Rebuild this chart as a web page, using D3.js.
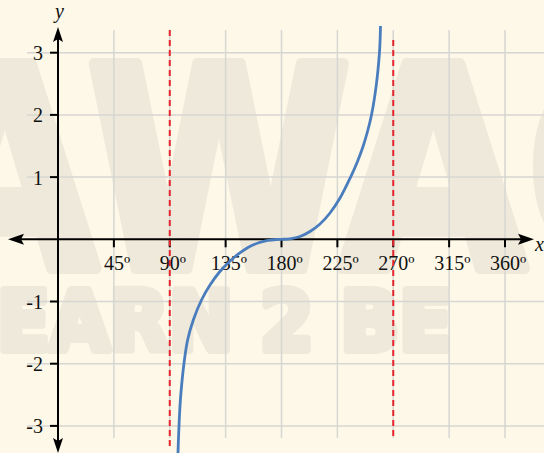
<!DOCTYPE html>
<html><head><meta charset="utf-8">
<script src="https://cdn.jsdelivr.net/npm/d3@7"></script>
<style>html,body{margin:0;padding:0;background:#fdf8e8;} svg{display:block}</style>
</head><body><svg id="c" width="544" height="453"></svg>
<script>
// ---- data ----
const xTicks = [45, 90, 135, 180, 225, 270, 315, 360];
const xTickLabels = ["45º", "90º", "135º", "180º", "225º", "270º", "315º", "360º"];
const yTicks = [-3, -2, -1, 1, 2, 3];
const yTickLabels = ["-3", "-2", "-1", "1", "2", "3"];
const asymptotes = [90, 270];
const curveDeg = [96.64, 97.21, 98.58, 101.40, 104.38, 108.97, 115.57, 122.42, 130.07, 137.72, 145.37, 153.02, 161.07, 169.13, 175.57, 180,
                  186.85, 194.90, 202.95, 211.01, 219.06, 227.11, 235.57, 241.21, 245.80, 249.50, 252.48, 256.43, 258.85, 259.41, 259.73];
const curveY   = [-3.436, -3.114, -2.583, -2.005, -1.619, -1.297, -0.976, -0.735, -0.526, -0.365, -0.236, -0.132, -0.059, -0.019, -0.003, 0,
                  0.008, 0.045, 0.125, 0.246, 0.423, 0.664, 0.997, 1.251, 1.5, 1.749, 1.997, 2.495, 2.99, 3.204, 3.429];

// ---- drawing ----
const svg = d3.select("#c");
const W = 544, H = 453;
const x = d3.scaleLinear().domain([0, 360]).range([58, 505]);
const y = d3.scaleLinear().domain([0, 3]).range([239.3, 52.7]);
const serif = "'Liberation Serif','Times New Roman',Times,serif";

svg.append("rect").attr("width", W).attr("height", H).attr("fill", "#fdf8e8");

// watermark
const wm = "#eee9da";
svg.append("text").text("AWAC")
  .attr("x", -88).attr("y", 268)
  .attr("textLength", 790).attr("lengthAdjust", "spacingAndGlyphs")
  .attr("font-family", "'DejaVu Sans',sans-serif").attr("font-weight", "bold")
  .attr("font-size", 280).attr("fill", wm).attr("stroke", wm)
  .attr("stroke-width", 12).attr("stroke-linejoin", "round");
svg.append("text").text("LEARN 2 BE")
  .attr("x", -52).attr("y", 350)
  .attr("textLength", 504).attr("lengthAdjust", "spacingAndGlyphs")
  .attr("font-family", "'DejaVu Sans',sans-serif").attr("font-weight", "bold")
  .attr("font-size", 82).attr("fill", wm).attr("stroke", wm)
  .attr("stroke-width", 8).attr("stroke-linejoin", "round");

// grid
const grid = svg.append("g").attr("stroke", "#d6d6d2").attr("stroke-width", 1.5);
grid.selectAll("line.v").data(xTicks).join("line")
  .attr("x1", d => x(d)).attr("x2", d => x(d)).attr("y1", 30).attr("y2", 438);
grid.selectAll("line.h").data(yTicks).join("line")
  .attr("x1", 27).attr("x2", W).attr("y1", d => y(d)).attr("y2", d => y(d));

// axes
const ax = svg.append("g");
ax.append("line").attr("x1", 12).attr("x2", 528).attr("y1", y(0)).attr("y2", y(0))
  .attr("stroke", "#000").attr("stroke-width", 2);
ax.append("line").attr("x1", x(0)).attr("x2", x(0)).attr("y1", 32).attr("y2", 448)
  .attr("stroke", "#000").attr("stroke-width", 2);
const y0 = y(0), x0 = x(0);
ax.append("path").attr("d", `M8,${y0} L24,${y0-5.5} L21,${y0} L24,${y0+5.5} Z`).attr("fill", "#000");
ax.append("path").attr("d", `M534,${y0} L518,${y0-5.5} L521,${y0} L518,${y0+5.5} Z`).attr("fill", "#000");
ax.append("path").attr("d", `M${x0},27 L${x0-5},42 L${x0},39 L${x0+5},42 Z`).attr("fill", "#000");
ax.append("path").attr("d", `M${x0},453 L${x0-5},438 L${x0},441 L${x0+5},438 Z`).attr("fill", "#000");

// ticks
ax.selectAll("line.xt").data(xTicks).join("line")
  .attr("x1", d => x(d)).attr("x2", d => x(d)).attr("y1", y0).attr("y2", y0 + 8)
  .attr("stroke", "#000").attr("stroke-width", 2);
ax.selectAll("line.yt").data(yTicks).join("line")
  .attr("x1", x0 - 8).attr("x2", x0).attr("y1", d => y(d)).attr("y2", d => y(d))
  .attr("stroke", "#000").attr("stroke-width", 2);

// tick labels
xTicks.forEach((d, i) => {
  const num = xTickLabels[i].replace("º", "");
  const t = svg.append("text").attr("font-family", serif).attr("font-size", 20)
    .attr("y", 269.5).attr("x", 0).attr("fill", "#111").text(num);
  const w = t.node().getComputedTextLength();
  t.text(null);
  t.attr("x", x(d) - w / 2);
  t.append("tspan").text(num);
  t.append("tspan").text("º");
});
svg.selectAll("text.yl").data(yTicks).join("text")
  .attr("font-family", serif).attr("font-size", 20).attr("fill", "#111")
  .attr("text-anchor", "end").attr("x", 43).attr("y", d => y(d) + 7.5)
  .text((d, i) => yTickLabels[i]);

// axis names
svg.append("text").text("y").attr("x", 55).attr("y", 18)
  .attr("font-family", serif).attr("font-style", "italic").attr("font-size", 20).attr("fill", "#111");
svg.append("text").text("x").attr("x", 535).attr("y", 251)
  .attr("font-family", serif).attr("font-style", "italic").attr("font-size", 20).attr("fill", "#111");

// asymptotes
svg.selectAll("line.as").data(asymptotes).join("line")
  .attr("x1", d => x(d)).attr("x2", d => x(d))
  .attr("y1", (d, i) => i === 0 ? 30 : 40).attr("y2", (d, i) => i === 0 ? 446 : 437)
  .attr("stroke", "#e5252c").attr("stroke-width", 2).attr("stroke-dasharray", "6,4");

// curve
const pts = curveDeg.map((d, i) => [d, curveY[i]]);
svg.append("path").datum(pts)
  .attr("d", d3.line().x(d => x(d[0])).y(d => y(d[1])).curve(d3.curveCatmullRom.alpha(0.5)))
  .attr("fill", "none").attr("stroke", "#4a7dbd").attr("stroke-width", 2.8);
</script></body></html>
